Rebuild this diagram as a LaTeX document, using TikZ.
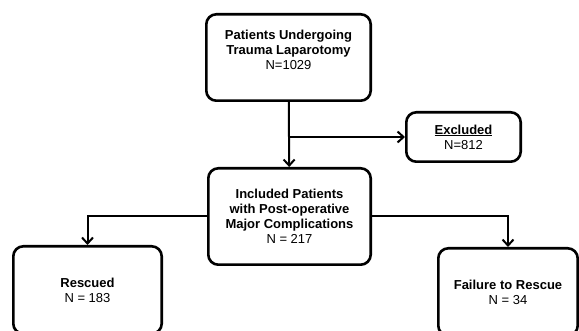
\documentclass[tikz,border=0pt]{standalone}
\usepackage{fontspec}
\setmainfont{Liberation Sans}
\usetikzlibrary{arrows.meta,positioning}
\tikzset{
  flowbox/.style={draw=black,line width=2.6pt,rounded corners=10pt,align=center,
    inner sep=2pt,font=\fontsize{13}{15}\selectfont},
  flowarrow/.style={-{Straight Barb[length=6pt,width=11pt,line width=2pt]},line width=2pt}
}
\begin{document}
\begin{tikzpicture}[x=1pt,y=1pt]
  \useasboundingbox (0,0) rectangle (579,-331);
  \node[flowbox,minimum width=164.4pt,minimum height=86.4pt] (trauma) at (288.5,-57.5)
    {\textbf{Patients Undergoing}\\\textbf{Trauma Laparotomy}\\N=1029\\\mbox{}};
  \node[flowbox,minimum width=114.4pt,minimum height=49.4pt] (excl) at (463.5,-137)
    {\textbf{\underline{Excluded}}\\N=812};
  \node[flowbox,minimum width=162.4pt,minimum height=96.4pt] (incl) at (289.5,-216.5)
    {\textbf{Included Patients}\\\textbf{with Post-operative}\\\textbf{Major Complications}\\N = 217};
  \node[flowbox,minimum width=148.4pt,minimum height=87.4pt] (resc) at (87.5,-290)
    {\textbf{Rescued}\\N = 183};
  \node[flowbox,minimum width=139.4pt,minimum height=87.4pt] (fail) at (508,-292)
    {\textbf{Failure to Rescue}\\N = 34};
  \coordinate (split) at (trauma.south |- excl.west);
  \draw[flowarrow] (trauma) -- (incl);
  \draw[flowarrow] (split) -- (excl);
  \draw[flowarrow] (incl.west) -| (resc.north);
  \draw[flowarrow] (incl.east) -| (fail.north);
\end{tikzpicture}
\end{document}
